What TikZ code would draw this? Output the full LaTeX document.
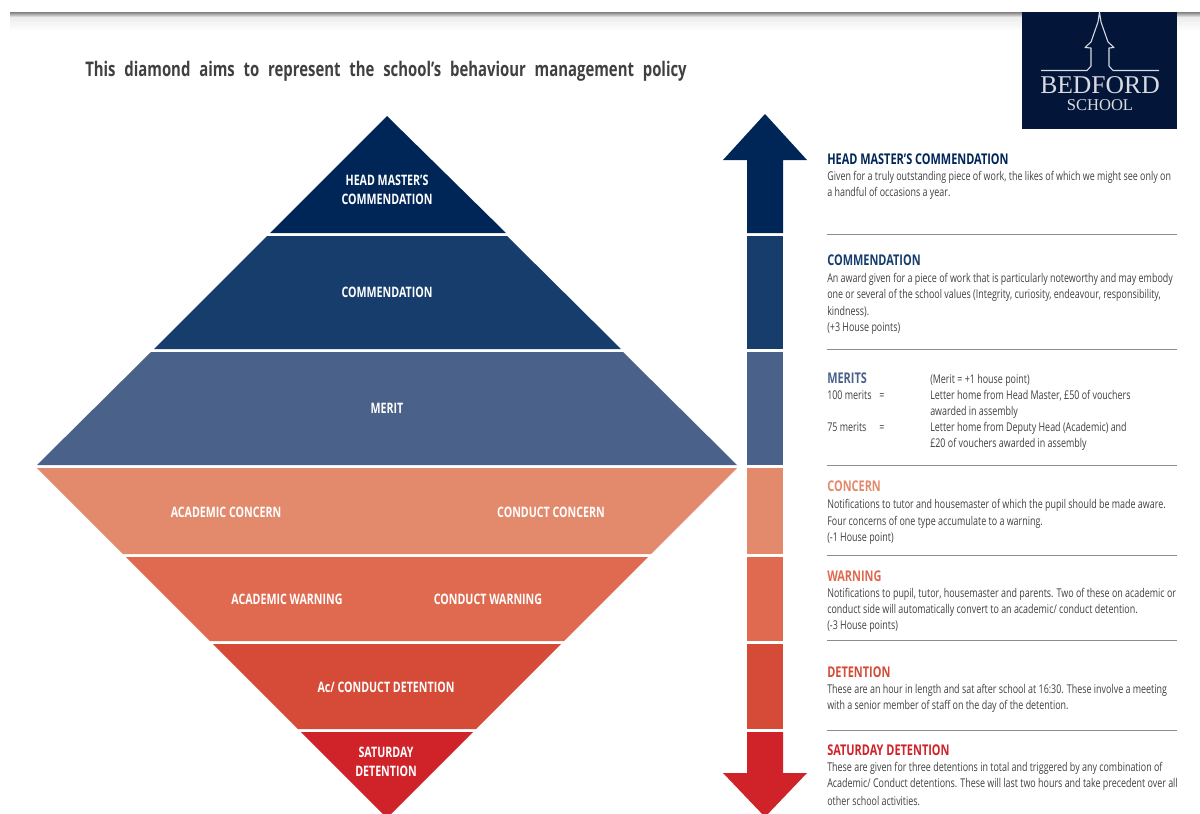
\documentclass[tikz,border=0pt]{standalone}
\usepackage{fontspec}
\setmainfont{Open Sans}
\newfontfamily\bodyf[FakeStretch=0.74]{Open Sans}
\newcommand{\headf}{\bodyf\bfseries}
\newfontfamily\logof{Liberation Serif}
\definecolor{c1}{HTML}{002557}
\definecolor{c2}{HTML}{163D6C}
\definecolor{c3}{HTML}{4A6189}
\definecolor{c4}{HTML}{E38A6D}
\definecolor{c5}{HTML}{DF6A50}
\definecolor{c6}{HTML}{D54B38}
\definecolor{c7}{HTML}{CF2229}
\definecolor{txt}{HTML}{404040}
\definecolor{navy}{HTML}{03163A}
\definecolor{logow}{HTML}{DADBE0}
\tikzset{
  x=0.75pt,y=-0.75pt,
  lab/.style={text=white,font=\headf\fontsize{10.8}{14.2}\selectfont,align=center,inner sep=0pt},
  bodyl/.style={text=txt,font=\bodyf\fontsize{9.05}{12}\selectfont,anchor=base west,inner sep=0pt},
  headl/.style={font=\headf\fontsize{11.1}{12}\selectfont,anchor=base west,inner sep=0pt},
  sep/.style={draw=black!45,line width=0.7pt},
}
\begin{document}
\begin{tikzpicture}
\useasboundingbox (0,0) rectangle (1200,814);
\clip (0,0) rectangle (1200,814);
% top page shadow
\shade[top color=black!50,bottom color=black!7] (10,12) rectangle (1200,17);
\shade[top color=black!7,bottom color=white] (10,17) rectangle (1200,31);
% diamond
\fill[c1] (387,116) -- (506,233) -- (270,233) -- cycle;
\fill[c2] (267,236) -- (507,236) -- (621,349) -- (154,349) -- cycle;
\fill[c3] (151,352) -- (623,352) -- (737,465) -- (37,465) -- cycle;
\fill[c4] (37,468) -- (737,468) -- (651,554) -- (123,554) -- cycle;
\fill[c5] (126,557) -- (648,557) -- (564,641) -- (210,641) -- cycle;
\fill[c6] (213,644) -- (561,644) -- (476,729) -- (298,729) -- cycle;
\fill[c7] (301,732) -- (473,732) -- (387,818) -- cycle;
% arrow
\fill[c1] (765,114) -- (807,160) -- (783,160) -- (783,233) -- (747,233) -- (747,160) -- (723,160) -- cycle;
\fill[c2] (747,236) rectangle (783,349);
\fill[c3] (747,352) rectangle (783,465);
\fill[c4] (747,468) rectangle (783,554);
\fill[c5] (747,557) rectangle (783,641);
\fill[c6] (747,644) rectangle (783,729);
\fill[c7] (747,732) -- (783,732) -- (783,773) -- (807,773) -- (765,817) -- (723,773) -- (747,773) -- cycle;
% diamond labels
\node[lab] (l1) at (387,190) {HEAD MASTER’S\\COMMENDATION};
\node[lab] (l2) at (387,292.5) {COMMENDATION};
\node[lab] (l3) at (387,408.5) {MERIT};
\node[lab] (l4a) at (226,512) {ACADEMIC CONCERN};
\node[lab] (l4b) at (551,512) {CONDUCT CONCERN};
\node[lab] (l5a) at (287,599.5) {ACADEMIC WARNING};
\node[lab] (l5b) at (488,599.5) {CONDUCT WARNING};
\node[lab] (l6) at (386,687.5) {Ac/ CONDUCT DETENTION};
\node[lab] (l7) at (386,762) {SATURDAY\\DETENTION};
% title
\node[anchor=base west,inner sep=0pt,text=txt,font=\headf\fontsize{15.1}{16}\selectfont] (title) at (85,76) {This\hspace{3.7pt} diamond\hspace{3.7pt} aims\hspace{3.7pt} to\hspace{3.7pt} represent\hspace{3.7pt} the\hspace{3.7pt} school’s\hspace{3.7pt} behaviour\hspace{3.7pt} management\hspace{3.7pt} policy};
% logo
\fill[navy] (1022,12) rectangle (1177,129);
\draw[logow,line width=0.8pt,line join=round] (1041,70.5) -- (1087,70.5) -- (1091,66) -- (1091,48) -- (1085,47.5) -- (1091,42) -- (1098,22) -- (1099.5,12) -- (1101,22) -- (1108,42) -- (1114,47.5) -- (1109,48) -- (1109,66) -- (1113,70.5) -- (1159,70.5);
\node[text=logow,font=\logof\fontsize{19.2}{20}\selectfont,inner sep=0pt] (bedford) at (1100,85.5) {BEDFORD};
\node[text=logow,font=\logof\fontsize{12.4}{14}\selectfont,inner sep=0pt] (school) at (1100,105) {SCHOOL};
% separators
\foreach \y in {234.5,349.5,465,555.5,640.5,730.5} \draw[sep] (827,\y) -- (1177,\y);
% text
\node[headl,text=c1] (t1) at (827,164) {HEAD MASTER’S COMMENDATION};
\node[bodyl] at (827,180) {Given for a truly outstanding piece of work, the likes of which we might see only on};
\node[bodyl] at (827,196) {a handful of occasions a year.};
\node[headl,text=c2] (t2) at (827,265) {COMMENDATION};
\node[bodyl] at (827,282) {An award given for a piece of work that is particularly noteworthy and may embody};
\node[bodyl] at (827,298) {one or several of the school values (Integrity, curiosity, endeavour, responsibility,};
\node[bodyl] at (827,315) {kindness).};
\node[bodyl] at (827,331) {(+3 House points)};
\node[headl,text=c3] (t3) at (827,383) {MERITS};
\node[bodyl] at (930,383) {(Merit = +1 house point)};
\node[bodyl] at (827,399) {100 merits};
\node[bodyl] at (879,399) {=};
\node[bodyl] at (930,399) {Letter home from Head Master, £50 of vouchers};
\node[bodyl] at (930,415) {awarded in assembly};
\node[bodyl] at (827,431) {75 merits};
\node[bodyl] at (879,431) {=};
\node[bodyl] at (930,431) {Letter home from Deputy Head (Academic) and};
\node[bodyl] at (930,447) {£20 of vouchers awarded in assembly};
\node[headl,text=c4] (t4) at (827,491) {CONCERN};
\node[bodyl] at (827,508) {Notifications to tutor and housemaster of which the pupil should be made aware.};
\node[bodyl] at (827,525) {Four concerns of one type accumulate to a warning.};
\node[bodyl] at (827,541) {(-1 House point)};
\node[headl,text=c5] (t5) at (827,581) {WARNING};
\node[bodyl] at (827,597) {Notifications to pupil, tutor, housemaster and parents. Two of these on academic or};
\node[bodyl] at (827,613) {conduct side will automatically convert to an academic/ conduct detention.};
\node[bodyl] at (827,629) {(-3 House points)};
\node[headl,text=c6] (t6) at (827,677) {DETENTION};
\node[bodyl] at (827,693) {These are an hour in length and sat after school at 16:30. These involve a meeting};
\node[bodyl] at (827,709) {with a senior member of staff on the day of the detention.};
\node[headl,text=c7] (t7) at (827,755) {SATURDAY DETENTION};
\node[bodyl] at (827,771) {These are given for three detentions in total and triggered by any combination of};
\node[bodyl] at (827,787) {Academic/ Conduct detentions. These will last two hours and take precedent over all};
\node[bodyl] at (827,805) {other school activities.};
\end{tikzpicture}
\end{document}
